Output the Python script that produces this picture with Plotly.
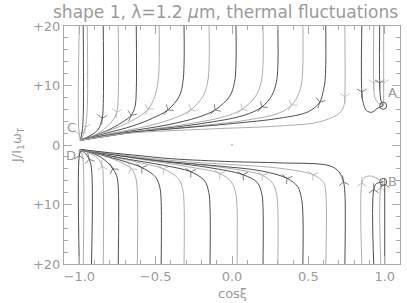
import plotly.graph_objects as go

# ---------------- data ----------------
title_text = "shape 1, λ=1.2 <i>μ</i>m, thermal fluctuations"
x_label = "cosξ"
y_label = "J/I<sub>1</sub>ω<sub>T</sub>"
x_tick_vals = [-1.0, -0.5, 0.0, 0.5, 1.0]
x_tick_text = ["−1.0", "−0.5", "0.0", "0.5", "1.0"]
y_tick_vals = [20, 10, 0, -10, -20]
y_tick_text = ["+20", "+10", "0", "+10", "+20"]

# trajectories starting at the top (J > 0): x list, y list, index of arrow head
top_x = [
    [-1.0, -1.0, -0.99],
    [-0.974, -0.974, -0.98, -0.99],
    [-0.948, -0.948, -0.96, -0.985],
    [-0.843, -0.843, -0.85, -0.88, -0.95, -0.99],
    [-0.745, -0.745, -0.755, -0.78, -0.85, -0.93, -0.99],
    [-0.627, -0.627, -0.635, -0.66, -0.72, -0.82, -0.92, -0.99],
    [-0.477, -0.477, -0.485, -0.505, -0.55, -0.62, -0.72, -0.85, -0.99],
    [-0.314, -0.314, -0.322, -0.345, -0.42, -0.52, -0.65, -0.82, -0.99],
    [-0.15, -0.15, -0.16, -0.19, -0.27, -0.38, -0.55, -0.78, -0.99],
    [0.026, 0.026, 0.016, -0.015, -0.11, -0.23, -0.42, -0.7, -0.99],
    [0.203, 0.203, 0.19, 0.155, 0.065, -0.06, -0.3, -0.65, -0.99],
    [0.30, 0.30, 0.29, 0.26, 0.196, 0.08, -0.2, -0.6, -0.99],
    [0.464, 0.464, 0.456, 0.435, 0.39, 0.31, 0.1, -0.3, -0.7, -0.99],
    [0.614, 0.614, 0.608, 0.595, 0.575, 0.5, 0.31, 0.0, -0.4, -0.75, -0.99],
    [0.739, 0.739, 0.735, 0.706, 0.575, 0.31, -0.14, -0.67, -0.86, -0.99],
    [0.85, 0.85, 0.86, 0.88, 0.915, 0.955, 0.99],
    [0.928, 0.928, 0.935, 0.96, 0.99],
    [0.967, 0.967, 0.975, 0.99],
    [0.993, 0.993, 0.993],
]
top_y = [
    [20, 1.8, 1.0],
    [20, 5, 2.5, 1.0],
    [20, 6, 3, 1.0],
    [20, 7, 4.5, 2.5, 1.3, 0.9],
    [20, 8, 5.5, 4.2, 2.4, 1.3, 0.85],
    [20, 9, 6.5, 5.0, 3.8, 2.4, 1.4, 0.85],
    [20, 13.5, 10.5, 8.2, 6.0, 4.6, 3.3, 2.0, 0.8],
    [20, 13.5, 10.5, 8.2, 5.9, 4.5, 3.2, 2.0, 0.8],
    [20, 13.5, 10.5, 8.2, 5.9, 4.5, 3.2, 2.0, 0.8],
    [20, 13.5, 10.5, 8.2, 5.9, 4.6, 3.4, 2.2, 0.8],
    [20, 13.5, 10.5, 8.2, 6.0, 4.7, 3.5, 2.2, 0.8],
    [20, 13, 10.5, 8.3, 6.4, 5.0, 3.6, 2.3, 0.8],
    [20, 13.5, 10.5, 8.5, 6.7, 5.4, 4.2, 3.0, 2.1, 0.8],
    [20, 13.5, 10.5, 8.8, 7.2, 5.6, 4.5, 3.6, 2.7, 1.9, 0.8],
    [20, 8.1, 6.8, 5.4, 3.9, 3.2, 2.7, 2.0, 1.35, 0.8],
    [20, 8.9, 7, 5.8, 5.5, 6.2, 6.6],
    [20, 10.4, 8, 7, 6.6],
    [20, 10.4, 7.5, 6.6],
    [20, 10.4, 6.6],
]
top_arrow = [1, None, 2, 2, 2, 3, 4, 4, 4, 4, 4, 4, 4, 4, 1, 1, 1, 1, 1]

# trajectories starting at the bottom (J < 0)
bot_x = [
    [-1.0, -1.0, -0.99],
    [-0.974, -0.974, -0.985],
    [-0.92, -0.92, -0.935, -0.965, -0.99],
    [-0.843, -0.843, -0.85, -0.88, -0.94, -0.99],
    [-0.745, -0.745, -0.755, -0.78, -0.83, -0.9, -0.99],
    [-0.62, -0.62, -0.63, -0.66, -0.72, -0.82, -0.92, -0.99],
    [-0.464, -0.464, -0.472, -0.5, -0.59, -0.7, -0.85, -0.99],
    [-0.314, -0.314, -0.322, -0.35, -0.45, -0.6, -0.8, -0.99],
    [-0.144, -0.144, -0.152, -0.18, -0.27, -0.45, -0.7, -0.99],
    [0.033, 0.033, 0.025, -0.005, -0.08, -0.3, -0.6, -0.99],
    [0.203, 0.203, 0.195, 0.165, 0.072, -0.15, -0.5, -0.99],
    [0.30, 0.30, 0.292, 0.265, 0.2, 0.0, -0.4, -0.99],
    [0.464, 0.464, 0.455, 0.43, 0.36, 0.2, -0.1, -0.5, -0.99],
    [0.614, 0.614, 0.6, 0.53, 0.31, 0.0, -0.4, -0.99],
    [0.739, 0.739, 0.73, 0.7, 0.64, 0.31, 0.0, -0.4, -0.6, -0.8, -0.99],
    [0.85, 0.85, 0.865, 0.9, 0.95, 0.99],
    [0.928, 0.928, 0.945, 0.99],
    [0.974, 0.974, 0.99],
    [1.0, 1.0],
]
bot_y = [
    [-20, -1.8, -1.0],
    [-20, -3, -1.1],
    [-20, -4, -2.4, -1.3, -0.9],
    [-20, -5.5, -3.6, -2.2, -1.3, -0.85],
    [-20, -7, -5.2, -4.0, -2.6, -1.5, -0.85],
    [-20, -8, -5.5, -4.0, -3.0, -2.0, -1.2, -0.8],
    [-20, -9.5, -7.2, -5.4, -3.8, -2.8, -1.7, -0.8],
    [-20, -10, -7.6, -5.7, -4.0, -3.0, -1.9, -0.8],
    [-20, -10.5, -8, -6.0, -4.5, -3.4, -2.3, -0.8],
    [-20, -10.5, -8.2, -6.2, -4.8, -3.6, -2.4, -0.8],
    [-20, -10.5, -8.2, -6.3, -5.0, -3.8, -2.6, -0.8],
    [-20, -10.5, -8.3, -6.4, -5.1, -4.0, -2.8, -0.8],
    [-20, -11.5, -9, -7.0, -5.6, -4.4, -3.5, -2.6, -0.8],
    [-20, -8, -6.3, -5.0, -3.9, -3.3, -2.6, -0.8],
    [-20, -8, -6.2, -4.5, -3.5, -3.0, -2.8, -2.3, -1.8, -1.3, -0.75],
    [-20, -6.4, -5.5, -5.2, -5.6, -6.2],
    [-20, -7.5, -6.5, -6.2],
    [-20, -7.2, -6.2],
    [-20, -6.6],
]
bot_arrow = [1, None, 2, 2, 3, 3, 4, 4, 4, 4, 4, 4, 4, 3, 2, 1, 1, 1, 1]

fixed_x = [0.99, 0.99]
fixed_y = [6.6, -6.2]
point_names = ["A", "B", "C", "D"]
point_label_x = [1.05, 1.05, -1.052, -1.052]
point_label_y = [8.9, -6.2, 3.0, -1.7]

# ---------------- figure ----------------
grey = "#9a9a9a"
line_cols = ["#adadad", "#4e4e4e"]
font = "DejaVu Sans"

fig = go.Figure()


def add_paths(xs_list, ys_list, arrows, offset):
    for i, (xs, ys) in enumerate(zip(xs_list, ys_list)):
        col = line_cols[(i + offset) % 2]
        sizes = [0] * len(xs)
        if arrows[i] is not None:
            sizes[arrows[i]] = 8
        fig.add_trace(go.Scatter(
            x=xs, y=ys, mode="lines+markers",
            line=dict(color=col, width=1, shape="spline", smoothing=1.0),
            marker=dict(symbol="y-up", size=sizes, angleref="previous",
                        color=col, line=dict(color=col, width=1)),
            hoverinfo="skip", showlegend=False))


add_paths(top_x, top_y, top_arrow, 0)
add_paths(bot_x, bot_y, bot_arrow, 1)

fig.add_trace(go.Scatter(
    x=fixed_x, y=fixed_y, mode="markers",
    marker=dict(symbol="circle-open", size=7, color="#555555", line=dict(width=1)),
    hoverinfo="skip", showlegend=False))
fig.add_trace(go.Scatter(
    x=[0.0], y=[0.0], mode="markers",
    marker=dict(symbol="circle", size=2, color="#bbbbbb"),
    hoverinfo="skip", showlegend=False))

for name, lx, ly in zip(point_names, point_label_x, point_label_y):
    fig.add_annotation(x=lx, y=ly, text=name, showarrow=False,
                       font=dict(family=font, size=13, color=grey),
                       xanchor="center", yanchor="middle")

fig.add_annotation(xref="paper", yref="paper", x=0.48, y=1.058, text=title_text,
                   showarrow=False, font=dict(family=font, size=17, color=grey),
                   xanchor="center", yanchor="middle")
fig.add_annotation(xref="paper", yref="paper", x=0.5, y=-0.122, text=x_label,
                   showarrow=False, font=dict(family=font, size=13, color=grey),
                   xanchor="center", yanchor="middle")
fig.add_annotation(xref="paper", yref="paper", x=-0.14, y=0.5, text=y_label,
                   textangle=-90, showarrow=False,
                   font=dict(family=font, size=13, color=grey),
                   xanchor="center", yanchor="middle")

axis_common = dict(showgrid=False, zeroline=False, showline=True, linecolor="#aaaaaa",
                   linewidth=1, mirror="allticks", ticks="inside", ticklen=8,
                   tickcolor="#aaaaaa", tickfont=dict(family=font, size=13, color=grey))

fig.update_xaxes(range=[-1.1, 1.1], tickmode="array", tickvals=x_tick_vals,
                 ticktext=x_tick_text,
                 minor=dict(ticks="inside", dtick=0.1, tick0=0, ticklen=4,
                            tickcolor="#aaaaaa", showgrid=False),
                 **axis_common)
fig.update_yaxes(range=[-20, 20], tickmode="array", tickvals=y_tick_vals,
                 ticktext=y_tick_text,
                 minor=dict(ticks="inside", dtick=2, tick0=0, ticklen=4,
                            tickcolor="#aaaaaa", showgrid=False),
                 **axis_common)

fig.update_layout(width=407, height=303, margin=dict(l=64, r=7, t=26, b=39),
                  paper_bgcolor="white", plot_bgcolor="white", showlegend=False)

fig.write_html("out.html", config={"displayModeBar": False},
               post_script="document.body.style.margin='0px';")
